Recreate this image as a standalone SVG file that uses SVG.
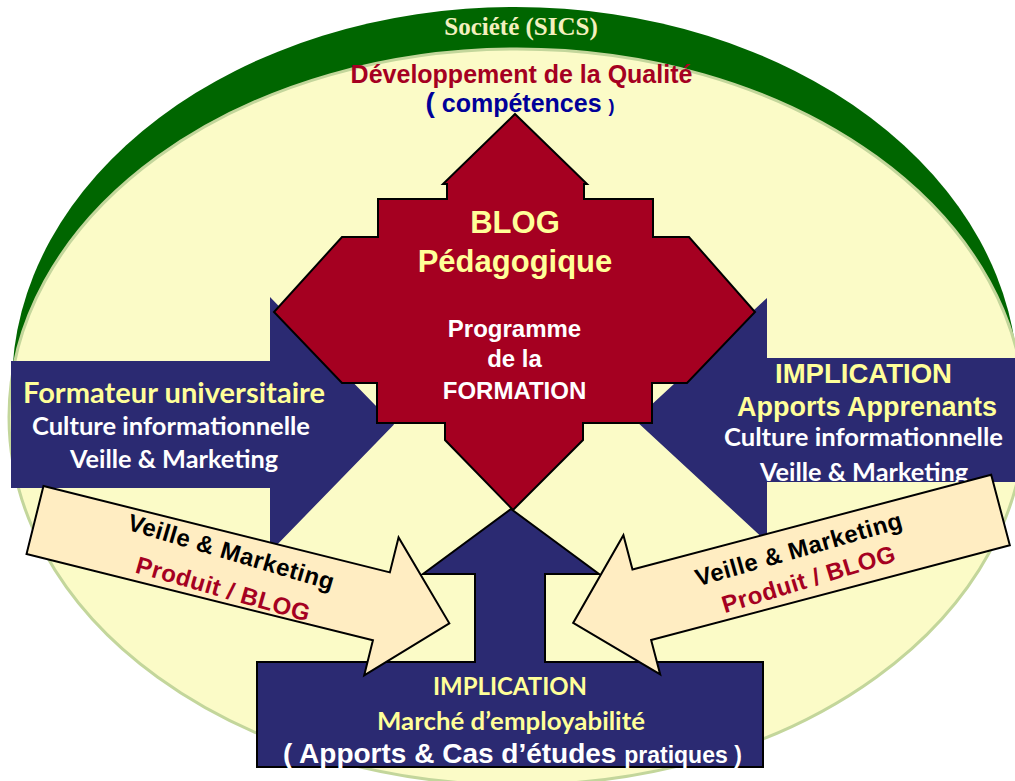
<svg xmlns="http://www.w3.org/2000/svg" width="1015" height="781" viewBox="0 0 1015 781">
<defs>
<style>
.ar{font-family:"Liberation Sans",Arial,sans-serif;font-weight:bold}
.ca{font-family:Lato,"Open Sans",sans-serif;font-weight:bold}
.tm{font-family:"Liberation Serif","Times New Roman",serif;font-weight:bold}
.yel{fill:#FFFF99}
.wht{fill:#FFFFFF}
.red{fill:#A50021}
.blue{fill:#2B2A72}
.beige{fill:#FFEDC2;stroke:#000;stroke-width:2;stroke-linejoin:miter}
.c{text-anchor:middle}
.bt{font-size:24px;letter-spacing:0.5px}
</style>
<clipPath id="clipR"><rect x="740" y="358" width="275" height="124"/></clipPath>
</defs>
<rect width="1015" height="781" fill="#FFFFFF"/>
<g id="societe">
<ellipse cx="515" cy="385" rx="503" ry="378" fill="#006600"/>
<ellipse cx="517" cy="417" rx="508" ry="368" fill="#FBFBC7" stroke="#C3D69B" stroke-width="3"/>
<text class="tm c" x="521" y="35" font-size="25" fill="#F3F0BE">Société (SICS)</text>
</g>
<g id="qualite">
<text class="ar c red" x="521.5" y="83" font-size="25">Développement de la Qualité</text>
<text class="ar c" x="520" y="112" font-size="25" fill="#000099"><tspan font-size="28">(</tspan> compétences <tspan font-size="18">)</tspan></text>
</g>
<g id="formateur">
<path class="blue" d="M11,361 L270,361 L270,297 L394,424.5 L270,552 L270,488 L11,488 Z"/>
<text class="ca c yel" x="174" y="403" font-size="28" textLength="302" lengthAdjust="spacingAndGlyphs">Formateur universitaire</text>
<text class="ca c wht" x="171" y="435" font-size="24" textLength="278" lengthAdjust="spacingAndGlyphs">Culture informationnelle</text>
<text class="ca c wht" x="174" y="468" font-size="24" textLength="208" lengthAdjust="spacingAndGlyphs">Veille &amp; Marketing</text>
</g>
<g id="apprenants">
<path class="blue" d="M1015,358 L767,358 L767,298 L635,420 L767,542 L767,482 L1015,482 Z"/>
<text class="ar c yel" x="863.5" y="383" font-size="27" textLength="177" lengthAdjust="spacingAndGlyphs">IMPLICATION</text>
<text class="ar c yel" x="867" y="416" font-size="27" textLength="260" lengthAdjust="spacingAndGlyphs">Apports Apprenants</text>
<text class="ca c wht" x="863.5" y="446" font-size="24" textLength="279" lengthAdjust="spacingAndGlyphs">Culture informationnelle</text>
<g clip-path="url(#clipR)"><text class="ca c wht" x="864" y="481" font-size="24" textLength="208" lengthAdjust="spacingAndGlyphs">Veille &amp; Marketing</text></g>
</g>
<g id="blog">
<path class="red" stroke="#000" stroke-width="2" d="M515,114 L587,184 L584,184 L584,199 L653,199 L653,237 L689,237 L755,312 L687,383 L652,383 L652,423 L583,423 L583,440 L513,510 L445,440 L445,423 L377,423 L377,383 L342,383 L274,312 L342,237 L378,237 L378,199 L447,199 L447,184 L443,184 Z"/>
<text class="ar c yel" x="515" y="233" font-size="31">BLOG</text>
<text class="ar c yel" x="515" y="272" font-size="31">Pédagogique</text>
<text class="ar c wht" x="514.5" y="337" font-size="24">Programme</text>
<text class="ar c wht" x="514.5" y="367" font-size="24">de la</text>
<text class="ar c wht" x="514.5" y="399" font-size="24">FORMATION</text>
</g>
<g id="marche">
<path class="blue" stroke="#000" stroke-width="2" d="M257,662 L475,662 L475,574 L423,574 L511,509 L599,574 L545,574 L545,662 L763,662 L763,767 L257,767 Z"/>
<text class="ca c yel" x="510" y="695" font-size="24" textLength="154" lengthAdjust="spacingAndGlyphs">IMPLICATION</text>
<text class="ca c yel" x="511" y="730" font-size="25" textLength="268" lengthAdjust="spacingAndGlyphs">Marché d’employabilité</text>
<text class="ar wht" x="283" y="763" font-size="28">( Apports &amp; Cas d’études <tspan font-size="23">pratiques )</tspan></text>
</g>
<g id="connectors">
<g id="veille-gauche">
<path class="beige" transform="translate(35,520) rotate(14)" d="M0,-35 L357,-35 L357,-71 L427,0 L357,71 L357,35 L0,35 Z"/>
<text class="ar c bt" transform="translate(229,560) rotate(16.5)" fill="#000">Veille &amp; Marketing</text>
<text class="ar c red bt" transform="translate(221,597) rotate(16)">Produit / BLOG</text>
</g>
<g id="veille-droite">
<path class="beige" transform="translate(1000.5,510) rotate(165.2)" d="M0,-36.5 L371,-36.5 L371,-72 L442,0 L371,72 L371,36.5 L0,36.5 Z"/>
<text class="ar c bt" transform="translate(801,557) rotate(-16)" fill="#000">Veille &amp; Marketing</text>
<text class="ar c red bt" transform="translate(811,587) rotate(-17)">Produit / BLOG</text>
</g>
</g>
</svg>
